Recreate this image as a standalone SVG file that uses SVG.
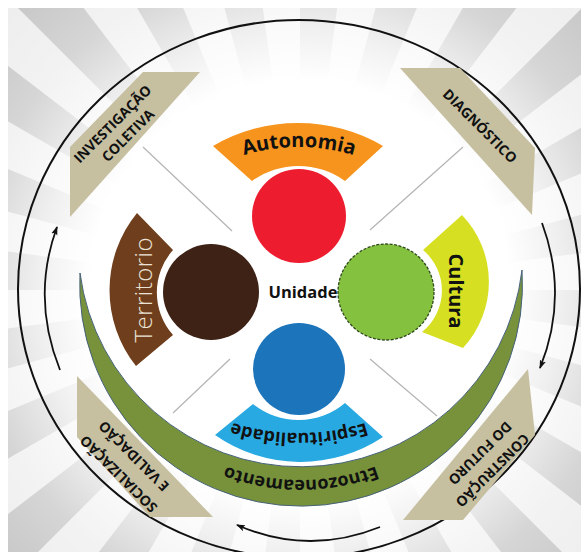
<svg xmlns="http://www.w3.org/2000/svg" width="581" height="552" viewBox="0 0 581 552">
<style>
.t{font-family:"Open Sans","Liberation Sans",sans-serif;font-weight:700;fill:#111}
.cap{font-size:14px}
.tan{fill:#c6c0a1}
.arc{fill:none;stroke:#111;stroke-width:1.8;marker-end:url(#ah)}
.gl{stroke:#b4b4b4;stroke-width:1.2}
</style>
<defs>
<polygon id="ray" points="0,0 700,0 694,91.4" fill="#c4c4c4"/>
<radialGradient id="fade" gradientUnits="userSpaceOnUse" cx="300" cy="290" r="420">
<stop offset="0" stop-color="#fff" stop-opacity="1"/>
<stop offset="0.5" stop-color="#fff" stop-opacity="1"/>
<stop offset="0.62" stop-color="#fff" stop-opacity="0.75"/>
<stop offset="0.78" stop-color="#fff" stop-opacity="0.3"/>
<stop offset="1" stop-color="#fff" stop-opacity="0"/>
</radialGradient>
<marker id="ah" markerUnits="userSpaceOnUse" markerWidth="10" markerHeight="8" refX="8" refY="4" orient="auto">
<path d="M0,0.8 L9,4 L0,7.2 L2,4 z" fill="#111"/>
</marker>
<path id="pAut" d="M 204 172.5 A 190 190 0 0 1 394 172.5"/>
<path id="pEsp" d="M 392 412.4 A 220 220 0 0 1 206 412.4"/>
<path id="pEtn" d="M 448.8 418.8 A 209 209 0 0 1 153.2 418.8"/>
</defs>

<g id="background">
<rect x="0" y="0" width="581" height="552" fill="#ffffff"/>
<rect x="8" y="8" width="573" height="544" fill="#ededed"/>
<g transform="translate(300,290)">
<use href="#ray" transform="rotate(0)"/><use href="#ray" transform="rotate(15)"/><use href="#ray" transform="rotate(30)"/><use href="#ray" transform="rotate(45)"/>
<use href="#ray" transform="rotate(60)"/><use href="#ray" transform="rotate(75)"/><use href="#ray" transform="rotate(90)"/><use href="#ray" transform="rotate(105)"/>
<use href="#ray" transform="rotate(120)"/><use href="#ray" transform="rotate(135)"/><use href="#ray" transform="rotate(150)"/><use href="#ray" transform="rotate(165)"/>
<use href="#ray" transform="rotate(180)"/><use href="#ray" transform="rotate(195)"/><use href="#ray" transform="rotate(210)"/><use href="#ray" transform="rotate(225)"/>
<use href="#ray" transform="rotate(240)"/><use href="#ray" transform="rotate(255)"/><use href="#ray" transform="rotate(270)"/><use href="#ray" transform="rotate(285)"/>
<use href="#ray" transform="rotate(300)"/><use href="#ray" transform="rotate(315)"/><use href="#ray" transform="rotate(330)"/><use href="#ray" transform="rotate(345)"/>
</g>
<rect x="8" y="8" width="573" height="544" fill="url(#fade)"/>
<rect x="0" y="0" width="581" height="8" fill="#ffffff"/>
<rect x="0" y="0" width="8" height="552" fill="#ffffff"/>
<ellipse cx="299" cy="289" rx="281" ry="269" fill="none" stroke="#111" stroke-width="2"/>
<line class="gl" x1="143" y1="147" x2="232" y2="231"/>
<line class="gl" x1="463" y1="147" x2="370" y2="230"/>
<line class="gl" x1="370" y1="359" x2="437" y2="416"/>
<line class="gl" x1="230" y1="359" x2="173" y2="413"/>
</g>

<g id="investigacao">
<polygon class="tan" points="70,147 143,72 200,72 70,217"/>
<g transform="translate(112.5,124) rotate(-45)">
<text class="t cap" text-anchor="middle" x="0" y="5">INVESTIGAÇÃO</text>
<text class="t cap" text-anchor="middle" x="3" y="24">COLETIVA</text>
</g>
</g>

<g id="diagnostico">
<polygon class="tan" points="400,68 460,68 535,148 532,215"/>
<g transform="translate(480,126) rotate(45)">
<text class="t cap" text-anchor="middle" x="0" y="5">DIAGNÓSTICO</text>
</g>
</g>

<g id="construcao">
<polygon class="tan" points="528,369 535,435 463,520 403,520"/>
<g transform="translate(492.5,470.5) rotate(135)">
<text class="t cap" text-anchor="middle" x="0" y="5">CONSTRUÇÃO</text>
<text class="t cap" text-anchor="middle" x="-3.5" y="26">DO FUTURO</text>
</g>
</g>

<g id="socializacao">
<polygon class="tan" points="77,376 77,437 150,517 213,517"/>
<g transform="translate(118.5,474) rotate(225)">
<text class="t cap" text-anchor="middle" x="0" y="5">SOCIALIZAÇÃO</text>
<text class="t cap" text-anchor="middle" x="1.8" y="28.5">E VALIDAÇÃO</text>
</g>
</g>

<g id="connectors">
<path class="arc" d="M 60 370 Q 31 298 57 227"/>
<path class="arc" d="M 542 223 Q 569 296 540 368"/>
<path class="arc" d="M 380 527 Q 308 556 237 525"/>
</g>

<g id="etnozoneamento">
<path d="M 80 273 A 221.4 221.4 0 1 0 522 270 A 222.7 222.7 0 0 1 80 273 Z" fill="#77923b" stroke="#46627a" stroke-width="1"/>
<text class="t" font-size="18"><textPath href="#pEtn" startOffset="50%" text-anchor="middle">Etnozoneamento</textPath></text>
</g>

<g id="autonomia">
<path d="M 213 146 A 168.5 168.5 0 0 1 383 146 L 345 181 A 79.6 79.6 0 0 0 252 181 Z" fill="#f7941d"/>
<text class="t" font-size="20"><textPath href="#pAut" startOffset="50%" text-anchor="middle">Autonomia</textPath></text>
<circle cx="299" cy="216" r="47" fill="#ee1c2f"/>
</g>

<g id="cultura">
<path d="M 462 215 A 97 97 0 0 1 463 348 L 422 332 A 53 53 0 0 0 423 250 Z" fill="#d6df22"/>
<text class="t" font-size="20" text-anchor="middle" transform="translate(449,291) rotate(90)" x="0" y="0">Cultura</text>
<circle cx="386" cy="292" r="48" fill="#84c13f" stroke="#2f4a1b" stroke-width="1.3" stroke-dasharray="3 1.5"/>
</g>

<g id="territorio">
<path d="M 136 366 A 122 122 0 0 1 137 213 L 173 250 A 64 64 0 0 0 173 335 Z" fill="#6f3f1d"/>
<text font-family="'Open Sans','Liberation Sans',sans-serif" font-weight="300" font-size="24" fill="#ece3d6" text-anchor="middle" textLength="105" transform="translate(152,290) rotate(-90)" x="0" y="0">Territorio</text>
<circle cx="211" cy="292" r="48" fill="#3d2215"/>
</g>

<g id="espiritualidade">
<path d="M 253 404 A 72 72 0 0 0 345 403 L 383 437 A 149 149 0 0 1 215 435 Z" fill="#29a9e1"/>
<text class="t" font-size="18"><textPath href="#pEsp" startOffset="50%" text-anchor="middle">Espiritualidade</textPath></text>
<circle cx="299" cy="369" r="46" fill="#1c74bb"/>
</g>

<g id="unidade">
<text class="t" font-size="16.5" text-anchor="middle" x="303" y="298">Unidade</text>
</g>
</svg>
